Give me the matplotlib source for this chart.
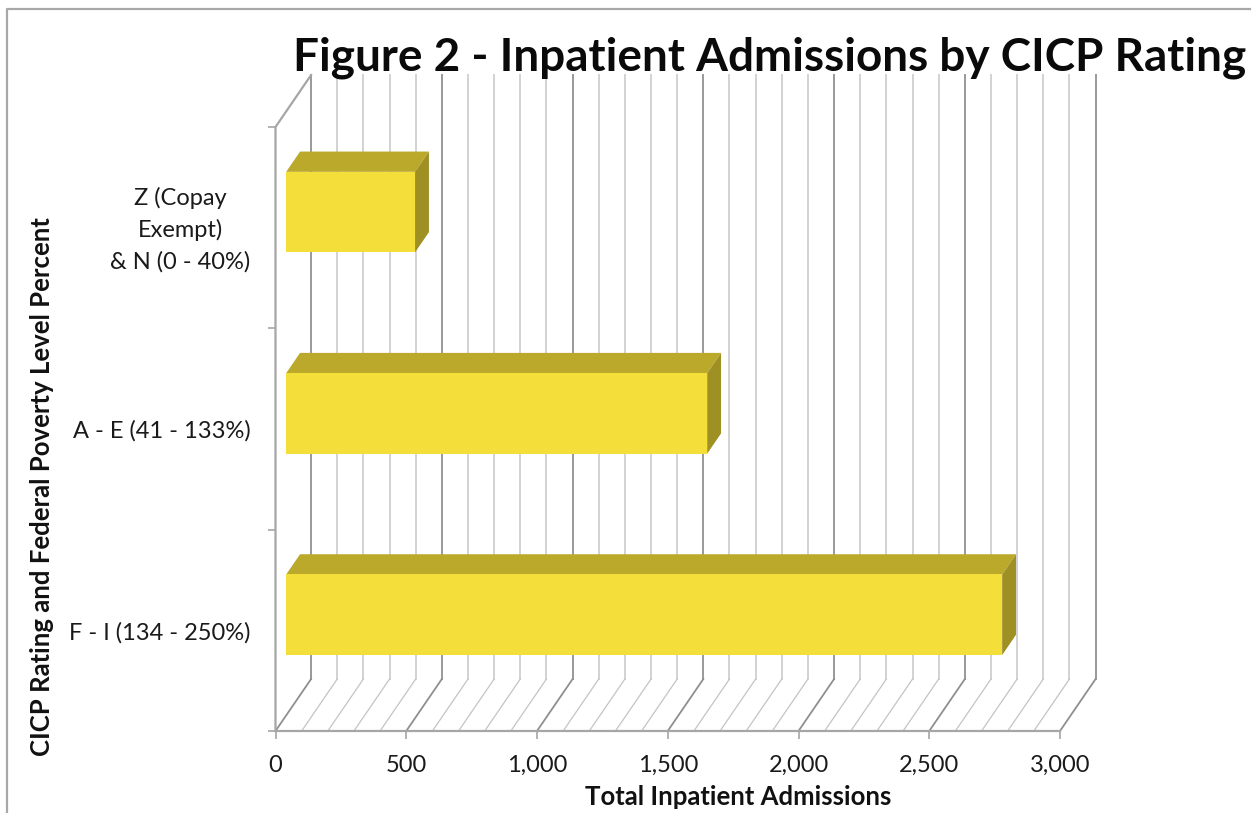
import matplotlib
matplotlib.use("Agg")
import matplotlib.pyplot as plt
from matplotlib.patches import Polygon, Rectangle

categories = ["F - I (134 - 250%)", "A - E (41 - 133%)", "Z (Copay\nExempt)\n& N (0 - 40%)"]
admissions = [2738, 1610, 493]
x_ticks = [0, 500, 1000, 1500, 2000, 2500, 3000]
x_tick_labels = ["0", "500", "1,000", "1,500", "2,000", "2,500", "3,000"]
minor_step = 100

W, H = 1252, 813
FONT = "Lato"

# 3D projection: depth is expressed as an offset in data units
DEPTH_X = 136.0
DEPTH_Y = 0.258
BAR_FRONT = 0.30
BAR_BACK = 0.69
BAR_HEIGHT = 0.40

FACE = "#f4df3a"
TOP = "#bba92c"
SIDE = "#9f9024"
GRID = "#d2d2d2"
GRID_MAJOR = "#999999"
AXIS = "#a6a6a6"

fig = plt.figure(figsize=(W / 100, H / 100), dpi=100, facecolor="white")
ax = fig.add_axes([275.5 / W, 1 - 731 / H, 784.5 / W, 604 / H])
ax.set_xlim(0, 3000)
ax.set_ylim(0, 3)
ax.set_facecolor("none")
for s in ax.spines.values():
    s.set_visible(False)

# Back wall and floor gridlines
for v in range(0, 3001, minor_step):
    major = v % 500 == 0
    ax.plot([v + DEPTH_X, v + DEPTH_X], [DEPTH_Y, 3 + DEPTH_Y], color=GRID_MAJOR if major else GRID,
            lw=1.4, clip_on=False, zorder=1)
    ax.plot([v, v + DEPTH_X], [0, DEPTH_Y], color="#8f8f8f" if major else "#c4c4c4",
            lw=1.3 if major else 0.9, clip_on=False, zorder=1)

# Left wall and axis lines
ax.plot([0, 0, DEPTH_X], [0, 3, 3 + DEPTH_Y], color=AXIS, lw=1.6, clip_on=False, zorder=2)
ax.plot([0, 3000], [0, 0], color=AXIS, lw=1.6, clip_on=False, zorder=2)

# Bars drawn as front, top and side faces
for i, val in enumerate(admissions):
    lo = i + 0.5 - BAR_HEIGHT / 2 + BAR_FRONT * DEPTH_Y
    hi = lo + BAR_HEIGHT
    x0 = BAR_FRONT * DEPTH_X
    x1 = x0 + val
    ddx = (BAR_BACK - BAR_FRONT) * DEPTH_X
    ddy = (BAR_BACK - BAR_FRONT) * DEPTH_Y
    ax.add_patch(Polygon([(x0, hi), (x1, hi), (x1 + ddx, hi + ddy), (x0 + ddx, hi + ddy)],
                         fc=TOP, ec="none", clip_on=False, zorder=3))
    ax.add_patch(Polygon([(x1, lo), (x1 + ddx, lo + ddy), (x1 + ddx, hi + ddy), (x1, hi)],
                         fc=SIDE, ec="none", clip_on=False, zorder=3))
    ax.add_patch(Rectangle((x0, lo), val, BAR_HEIGHT, fc=FACE, ec="none", clip_on=False, zorder=4))

# Ticks and tick labels
ax.set_xticks(x_ticks)
ax.set_xticklabels(x_tick_labels, fontsize=17, family=FONT, color="#1a1a1a")
ax.set_yticks([0, 1, 2, 3])
ax.set_yticklabels([])
ax.tick_params(axis="both", length=5.5, width=1.2, color=AXIS, pad=12)

for i, lab in enumerate(categories):
    ax.annotate(lab, xy=(0, i + 0.5), xycoords=("data", "data"), xytext=(250.5 / W, -1.5),
                textcoords=("figure fraction", "offset points"), ha="right", multialignment="center",
                va="center", fontsize=17, family=FONT, color="#1a1a1a", linespacing=1.55)

fig.text(738 / W, 1 - 797 / H, "Total Inpatient Admissions", ha="center", va="center",
         fontsize=18.5, fontweight="bold", family=FONT, color="#111111")
fig.text(42 / W, 1 - 487 / H, "CICP Rating and Federal Poverty Level Percent", rotation=90,
         ha="center", va="center", fontsize=18.5, fontweight="bold", family=FONT, color="#111111")
fig.text(769.5 / W, 1 - 57.5 / H, "Figure 2 - Inpatient Admissions by CICP Rating", ha="center",
         va="center", fontsize=33, fontweight="bold", family=FONT, color="#0a0a0a")

# Outer frame, open at the bottom
fig.add_artist(plt.Line2D([7 / W, 7 / W, 1250 / W], [0, 1 - 9 / H, 1 - 9 / H],
                          color="#a8a8a8", lw=1.6, transform=fig.transFigure))

fig.savefig("out.png", dpi=100)
